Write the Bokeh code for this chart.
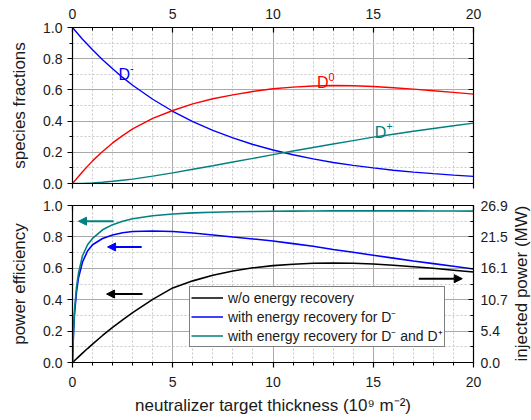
import math
from bokeh.plotting import figure
from bokeh.models import (LinearAxis, Range1d, SingleIntervalTicker, FixedTicker,
                          Label, Arrow, NormalHead, Legend, LegendItem, PrintfTickFormatter)
from bokeh.layouts import column, row
from bokeh.embed import file_html
from bokeh.resources import INLINE

FONT = "Liberation Sans"

# ---------------- data ----------------
thickness = [0, 0.5, 1, 1.5, 2, 2.5, 3, 4, 5, 6, 7, 8, 9, 10, 11, 12, 13, 14, 15, 16, 17, 18, 19, 20]
frac_dminus = [1.0, 0.925, 0.857, 0.793, 0.735, 0.68, 0.63, 0.54, 0.463, 0.397, 0.34, 0.292,
               0.25, 0.215, 0.184, 0.158, 0.135, 0.116, 0.1, 0.085, 0.073, 0.063, 0.054, 0.046]
frac_d0 = [0.0, 0.075, 0.145, 0.205, 0.26, 0.307, 0.35, 0.418, 0.468, 0.51, 0.543, 0.568,
           0.59, 0.607, 0.618, 0.625, 0.628, 0.627, 0.622, 0.614, 0.605, 0.595, 0.584, 0.573]
frac_dplus = [0.0, 0.001, 0.004, 0.008, 0.014, 0.021, 0.028, 0.047, 0.068, 0.091, 0.114, 0.138,
              0.161, 0.185, 0.208, 0.231, 0.253, 0.275, 0.297, 0.316, 0.335, 0.353, 0.37, 0.387]

eff_x = [0, 0.05, 0.1, 0.2, 0.3, 0.5, 0.75, 1, 1.5, 2, 2.5, 3, 4, 5, 6, 7, 8, 9, 10,
         11, 12, 13, 14, 15, 16, 17, 18, 19, 20]
eff_none = [0.0, 0.006, 0.012, 0.024, 0.036, 0.06, 0.089, 0.117, 0.172, 0.223, 0.272,
            0.318, 0.402, 0.475, 0.52, 0.556, 0.583, 0.603, 0.617, 0.626, 0.632, 0.634,
            0.632, 0.627, 0.619, 0.61, 0.6, 0.588, 0.576]
eff_dminus = [0.0, 0.19, 0.31, 0.45, 0.54, 0.64, 0.71, 0.75, 0.79, 0.812, 0.826, 0.834,
              0.838, 0.834, 0.825, 0.812, 0.799, 0.787, 0.774, 0.757, 0.74, 0.72, 0.702,
              0.683, 0.665, 0.647, 0.63, 0.613, 0.596]
eff_both = [0.0, 0.2, 0.33, 0.48, 0.57, 0.68, 0.75, 0.79, 0.845, 0.878, 0.9, 0.916,
            0.935, 0.946, 0.953, 0.957, 0.96, 0.962, 0.963, 0.964, 0.965, 0.966, 0.966,
            0.966, 0.966, 0.966, 0.965, 0.965, 0.964]

power_max = 26.85
power_ticks = [0, 5.37, 10.74, 16.11, 21.48, 26.85]
power_label = "injected power (MW)"

legend_labels = ["w/o energy recovery",
                 "with energy recovery for D\u207b",
                 "with energy recovery for D\u207b and D\u207a"]

BLUE = "#0000ff"
RED = "#ff0000"
TEAL = "#008080"
BLACK = "#000000"
TEXT = "#1a1a1a"

MAIN_W = 511


def style_axis(ax, ticker, labels=True, tick_in=False, standoff=5):
    ax.ticker = ticker
    ax.axis_line_color = "black"
    ax.axis_line_width = 1.2
    ax.major_tick_line_color = "black"
    ax.minor_tick_line_color = "black"
    ax.major_tick_line_width = 1.2
    ax.minor_tick_line_width = 1.0
    if tick_in:
        ax.major_tick_in, ax.major_tick_out = 5, 0
        ax.minor_tick_in, ax.minor_tick_out = 3, 0
    else:
        ax.major_tick_in, ax.major_tick_out = 0, 5
        ax.minor_tick_in, ax.minor_tick_out = 0, 3
    ax.major_label_text_font = FONT
    if labels:
        ax.major_label_text_font_size = "14px"
        ax.major_label_text_color = TEXT
        ax.major_label_standoff = standoff
    else:
        ax.major_label_text_font_size = "1px"
        ax.major_label_text_color = None
        ax.major_label_standoff = 0
    ax.axis_label_text_font = FONT
    ax.axis_label_text_font_size = "17px"
    ax.axis_label_text_font_style = "normal"
    ax.axis_label_text_color = TEXT


def style_grid(p):
    for g in (p.xgrid[0], p.ygrid[0]):
        g.grid_line_color = "#a9a9a9"
        g.grid_line_width = 1
        g.minor_grid_line_color = "#c8c8c8"
        g.minor_grid_line_dash = "2 2"
        g.minor_grid_line_width = 1


def x_ticker():
    return SingleIntervalTicker(interval=5, num_minor_ticks=5)


def y_ticker():
    return SingleIntervalTicker(interval=0.2, num_minor_ticks=2)


# ---------------- top panel ----------------
p1 = figure(width=MAIN_W, height=193, output_backend="svg", toolbar_location=None,
            x_range=Range1d(0, 20), y_range=Range1d(0, 1),
            min_border_left=72, min_border_right=38, min_border_top=27, min_border_bottom=10)
p1.outline_line_color = None
p1.background_fill_color = "white"
p1.border_fill_color = "white"

style_axis(p1.xaxis[0], x_ticker(), labels=False, tick_in=False)
style_axis(p1.yaxis[0], y_ticker(), labels=True, tick_in=False)
p1.yaxis[0].formatter = PrintfTickFormatter(format="%.1f")
p1.yaxis[0].axis_label = "species fractions"
p1.yaxis[0].axis_label_standoff = 11
p1.xgrid[0].ticker = p1.xaxis[0].ticker
p1.ygrid[0].ticker = p1.yaxis[0].ticker
style_grid(p1)

top_ax = LinearAxis()
style_axis(top_ax, x_ticker(), labels=True, tick_in=True, standoff=9)
p1.add_layout(top_ax, "above")
right_ax1 = LinearAxis()
style_axis(right_ax1, y_ticker(), labels=False, tick_in=True)
p1.add_layout(right_ax1, "right")

p1.line(thickness, frac_dminus, line_color=BLUE, line_width=1.4)
p1.line(thickness, frac_d0, line_color=RED, line_width=1.4)
p1.line(thickness, frac_dplus, line_color=TEAL, line_width=1.4)


def species_label(p, x, y, sup, color):
    p.add_layout(Label(x=x, y=y, text="D", text_color=color, text_font=FONT,
                       text_font_size="16px", text_baseline="alphabetic"))
    p.add_layout(Label(x=x, y=y, x_offset=11.5, y_offset=6, text=sup, text_color=color,
                       text_font=FONT, text_font_size="11px", text_baseline="alphabetic"))


species_label(p1, 2.3, 0.70, "-", BLUE)
species_label(p1, 12.2, 0.647, "0", RED)
species_label(p1, 15.08, 0.329, "+", TEAL)

# ---------------- bottom panel ----------------
p2 = figure(width=MAIN_W, height=227, output_backend="svg", toolbar_location=None,
            x_range=Range1d(0, 20), y_range=Range1d(0, 1),
            min_border_left=72, min_border_right=38, min_border_top=12, min_border_bottom=58)
p2.outline_line_color = None
p2.background_fill_color = "white"
p2.border_fill_color = "white"
p2.extra_y_ranges = {"power": Range1d(0, power_max)}

style_axis(p2.xaxis[0], x_ticker(), labels=True, tick_in=False, standoff=9)
p2.xaxis[0].axis_label = "neutralizer target thickness (10\u2079 m\u207b\u00b2)"
p2.xaxis[0].axis_label_standoff = 6
style_axis(p2.yaxis[0], y_ticker(), labels=True, tick_in=False)
p2.yaxis[0].formatter = PrintfTickFormatter(format="%.1f")
p2.yaxis[0].axis_label = "power efficiency"
p2.yaxis[0].axis_label_standoff = 11
p2.xgrid[0].ticker = p2.xaxis[0].ticker
p2.ygrid[0].ticker = p2.yaxis[0].ticker
style_grid(p2)

top_ax2 = LinearAxis()
style_axis(top_ax2, x_ticker(), labels=False, tick_in=True)
p2.add_layout(top_ax2, "above")

power_minor = [(a + b) / 2 for a, b in zip(power_ticks[:-1], power_ticks[1:])]
right_ax2 = LinearAxis(y_range_name="power", formatter=PrintfTickFormatter(format="%.1f"))
style_axis(right_ax2, FixedTicker(ticks=power_ticks, minor_ticks=power_minor),
           labels=True, tick_in=True, standoff=7)
p2.add_layout(right_ax2, "right")

r_none = p2.line(eff_x, eff_none, line_color=BLACK, line_width=1.6)
r_dm = p2.line(eff_x, eff_dminus, line_color=BLUE, line_width=1.6)
r_both = p2.line(eff_x, eff_both, line_color=TEAL, line_width=1.6)

# arrows pointing to the axis each curve is read on
arrow_specs = [(2.05, 0.9, 0.3, 0.9, TEAL),
               (3.45, 0.736, 1.75, 0.736, BLUE),
               (3.49, 0.436, 1.7, 0.436, BLACK),
               (17.27, 0.534, 19.44, 0.534, BLACK)]
for xs, ys, xe, ye, col in arrow_specs:
    p2.add_layout(Arrow(x_start=xs, y_start=ys, x_end=xe, y_end=ye,
                        line_color=col, line_width=2,
                        end=NormalHead(size=8, fill_color=col, line_color=col)))

legend = Legend(items=[LegendItem(label=legend_labels[0], renderers=[r_none]),
                       LegendItem(label=legend_labels[1], renderers=[r_dm]),
                       LegendItem(label=legend_labels[2], renderers=[r_both])],
                location=(117, 15), orientation="vertical")
legend.padding = 1
legend.margin = 0
legend.spacing = 0
legend.glyph_height = 19
legend.label_height = 19
legend.glyph_width = 32
legend.label_standoff = 5
legend.label_text_font = FONT
legend.label_text_font_size = "14px"
legend.label_text_color = TEXT
legend.border_line_color = "black"
legend.border_line_width = 1
legend.background_fill_color = "white"
legend.background_fill_alpha = 1
p2.add_layout(legend)

# ---------------- narrow strip carrying the right-hand axis title ----------------
p3 = figure(width=20, height=420, output_backend="svg", toolbar_location=None,
            x_range=Range1d(0, 20), y_range=Range1d(420, 0),
            x_axis_type=None, y_axis_type=None,
            min_border_left=0, min_border_right=0, min_border_top=0, min_border_bottom=0)
p3.outline_line_color = None
p3.background_fill_color = "white"
p3.border_fill_color = "white"
p3.xgrid.visible = False
p3.ygrid.visible = False
p3.add_layout(Label(x=10, y=283, text=power_label, angle=math.pi / 2,
                    text_align="center", text_baseline="middle", text_font=FONT,
                    text_font_size="17px", text_color=TEXT))

layout = row(column(p1, p2, spacing=0), p3, spacing=0)
open("out.html", "w").write(file_html(layout, INLINE))
